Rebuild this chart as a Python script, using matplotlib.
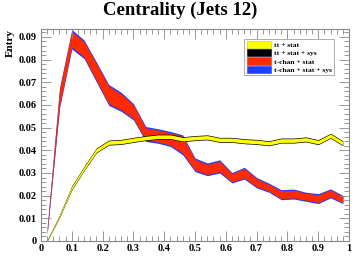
import numpy as np
import matplotlib
matplotlib.use("Agg")
import matplotlib.pyplot as plt
from matplotlib.patches import Patch
from matplotlib.ticker import MultipleLocator

# bin centres (25 bins on 0..1)
bin_centres = [0.02, 0.06, 0.10, 0.14, 0.18, 0.22, 0.26, 0.30, 0.34, 0.38,
               0.42, 0.46, 0.50, 0.54, 0.58, 0.62, 0.66, 0.70, 0.74, 0.78,
               0.82, 0.86, 0.90, 0.94, 0.98]

# ttbar shape and errors
tt_value = [0.0002, 0.0109, 0.0234, 0.0320, 0.0400, 0.0434, 0.0437, 0.0446,
            0.0454, 0.0460, 0.0460, 0.0449, 0.0454, 0.0457, 0.0446, 0.0446,
            0.0440, 0.0437, 0.0431, 0.0443, 0.0443, 0.0448, 0.0436, 0.0464,
            0.0431]
tt_stat = [0.0002, 0.0004, 0.0006, 0.0007, 0.0008, 0.0008, 0.0008, 0.0008,
           0.0008, 0.0008, 0.0008, 0.0008, 0.0008, 0.0008, 0.0008, 0.0008,
           0.0008, 0.0008, 0.0008, 0.0008, 0.0008, 0.0008, 0.0008, 0.0008,
           0.0008]
tt_sys = [0.0003, 0.0006, 0.0009, 0.0010, 0.0011, 0.0011, 0.0011, 0.0011,
          0.0011, 0.0011, 0.0011, 0.0011, 0.0011, 0.0011, 0.0011, 0.0011,
          0.0011, 0.0011, 0.0011, 0.0011, 0.0011, 0.0011, 0.0011, 0.0011,
          0.0011]

# t-channel shape and errors
tchan_value = [0.0045, 0.0630, 0.0890, 0.0845, 0.0745, 0.0644, 0.0614, 0.0570,
               0.0472, 0.0463, 0.0450, 0.0424, 0.0336, 0.0316, 0.0329, 0.0279,
               0.0299, 0.0257, 0.0235, 0.0204, 0.0207, 0.0195, 0.0187, 0.0210,
               0.0183]
tchan_stat = [0.0010, 0.0037, 0.0034, 0.0034, 0.0037, 0.0039, 0.0035, 0.0030,
              0.0027, 0.0026, 0.0027, 0.0037, 0.0024, 0.0022, 0.0023, 0.0018,
              0.0021, 0.0018, 0.0015, 0.0017, 0.0017, 0.0015, 0.0017, 0.0015,
              0.0014]
tchan_sys = [0.0015, 0.0045, 0.0043, 0.0041, 0.0044, 0.0046, 0.0042, 0.0036,
             0.0033, 0.0032, 0.0033, 0.0044, 0.0030, 0.0028, 0.0029, 0.0023,
             0.0026, 0.0023, 0.0020, 0.0022, 0.0022, 0.0020, 0.0022, 0.0020,
             0.0018]

x_ticks = [0, 0.1, 0.2, 0.3, 0.4, 0.5, 0.6, 0.7, 0.8, 0.9, 1.0]
x_ticklabels = ["0", "0.1", "0.2", "0.3", "0.4", "0.5", "0.6", "0.7",
                "0.8", "0.9", "1"]
y_ticks = [0, 0.01, 0.02, 0.03, 0.04, 0.05, 0.06, 0.07, 0.08, 0.09]
y_ticklabels = ["0", "0.01", "0.02", "0.03", "0.04", "0.05", "0.06",
                "0.07", "0.08", "0.09"]

x = np.array(bin_centres)
tt = np.array(tt_value)
tc = np.array(tchan_value)

serif = ["Liberation Serif", "DejaVu Serif"]
plt.rcParams["font.family"] = serif
plt.rcParams["font.weight"] = "bold"

fig = plt.figure(figsize=(3.61, 2.72), dpi=100)
ax = fig.add_axes([0.1136, 0.114, 0.8532, 0.7794])

ax.fill_between(x, tc - np.array(tchan_sys), tc + np.array(tchan_sys),
                color="#1f3cff", lw=0)
ax.fill_between(x, tc - np.array(tchan_stat), tc + np.array(tchan_stat),
                color="#ff2a00", lw=0)
ax.fill_between(x, tt - np.array(tt_sys), tt + np.array(tt_sys),
                color="black", lw=0)
ax.fill_between(x, tt - np.array(tt_stat), tt + np.array(tt_stat),
                color="#ffff00", lw=0)

ax.set_xlim(0, 1)
ax.set_ylim(0, 0.0935)
ax.set_xticks(x_ticks)
ax.set_xticklabels(x_ticklabels, fontsize=7.5, fontweight="bold")
ax.set_yticks(y_ticks)
ax.set_yticklabels(y_ticklabels, fontsize=7.5, fontweight="bold")
ax.xaxis.set_minor_locator(MultipleLocator(0.02))
ax.yaxis.set_minor_locator(MultipleLocator(0.002))
ax.tick_params(which="both", direction="in", top=True, right=True,
               color="#888888", width=0.6)
ax.tick_params(which="major", length=7)
ax.tick_params(which="minor", length=3.5)
ax.tick_params(axis="x", which="major", pad=2)
ax.tick_params(axis="y", which="major", pad=3)
for s in ax.spines.values():
    s.set_color("#888888")
    s.set_linewidth(0.8)

ax.set_ylabel("Entry", fontsize=8, fontweight="bold", loc="top", labelpad=3)
fig.suptitle("Centrality (Jets 12)", fontsize=13.5, fontweight="bold",
             x=0.5, y=0.995)

handles = [Patch(facecolor="#ffff00", edgecolor="#c8c800", lw=0.4),
           Patch(facecolor="black", edgecolor="black", lw=0.4),
           Patch(facecolor="#ff2a00", edgecolor="#ff2a00", lw=0.4),
           Patch(facecolor="#1f3cff", edgecolor="#1f3cff", lw=0.4)]
labels = ["tt + stat", "tt + stat + sys", "t-chan + stat", "t-chan + stat + sys"]
leg = ax.legend(handles, labels, loc="upper left",
                bbox_to_anchor=(0.66, 0.955), fontsize=5.4, frameon=True,
                fancybox=False, borderpad=0.3, labelspacing=0.15,
                handlelength=3.2, handleheight=1.1, handletextpad=0.4,
                borderaxespad=0)
leg.get_frame().set_edgecolor("#888888")
leg.get_frame().set_linewidth(0.6)

fig.savefig("out.png", dpi=100)
